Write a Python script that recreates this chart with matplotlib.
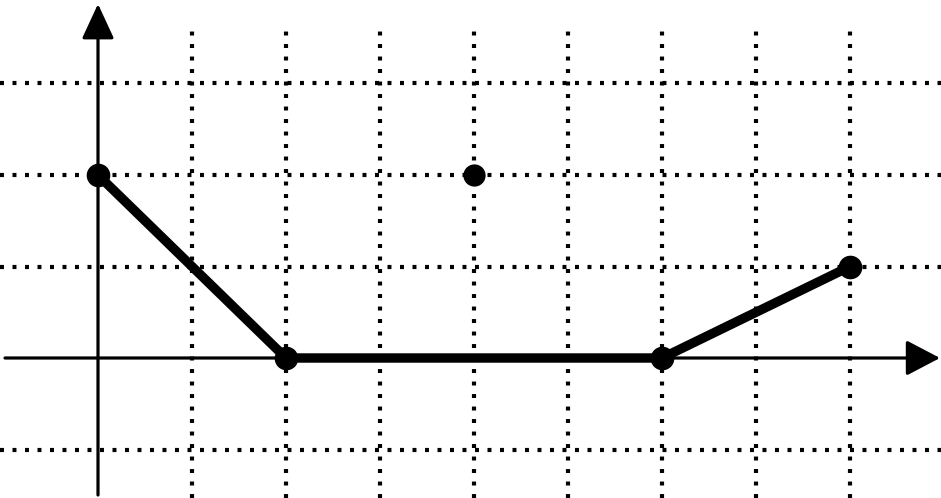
import matplotlib
matplotlib.use("Agg")
import matplotlib.pyplot as plt

# piecewise graph data
line_x = [0, 2, 6, 8]
line_y = [2, 0, 0, 1]
point_x = [4]
point_y = [2]
grid_x = [1, 2, 3, 4, 5, 6, 7, 8]
grid_y = [-1, 1, 2, 3]

W, H = 941, 498
fig = plt.figure(figsize=(W / 100, H / 100), dpi=100)
ax = fig.add_axes([0, 0, 1, 1])
ax.set_axis_off()

# pixel mapping: x=0 at px 98, 94 px per unit; y=0 at px 358, 91.5 px per unit
x0, ux = 98.0, 94.0
y0, uy = 358.0, 91.5
xmin, xmax = -x0 / ux, (W - x0) / ux
ymax, ymin = y0 / uy, -(H - y0) / uy
ax.set_xlim(xmin, xmax)
ax.set_ylim(ymin, ymax)

dot = (0, (0.95, 2.05))
top_v = (y0 - 28) / uy
for gx in grid_x:
    ax.plot([gx, gx], [ymin, top_v], color="black", lw=3.0, linestyle=dot, zorder=1)
for gy in grid_y:
    ax.plot([xmin, xmax], [gy, gy], color="black", lw=3.0, linestyle=dot, zorder=1)

# axes with arrows
ax.annotate("", xy=(0, (y0 - 4) / uy), xytext=(0, ymin + 3 / uy),
            arrowprops=dict(arrowstyle="-|>,head_length=1.08,head_width=0.5",
                            mutation_scale=20, lw=2.3, color="black",
                            shrinkA=0, shrinkB=0), zorder=2)
ax.annotate("", xy=((W - x0 - 1) / ux, 0), xytext=(xmin + 5 / ux, 0),
            arrowprops=dict(arrowstyle="-|>,head_length=1.05,head_width=0.55",
                            mutation_scale=20, lw=2.3, color="black",
                            shrinkA=0, shrinkB=0), zorder=2)

# graph
ax.plot(line_x, line_y, color="black", lw=6.8, solid_capstyle="round",
        marker="o", markersize=16, zorder=3)
ax.plot(point_x, point_y, "o", color="black", markersize=15, zorder=3)

fig.savefig("out.png", dpi=100)
